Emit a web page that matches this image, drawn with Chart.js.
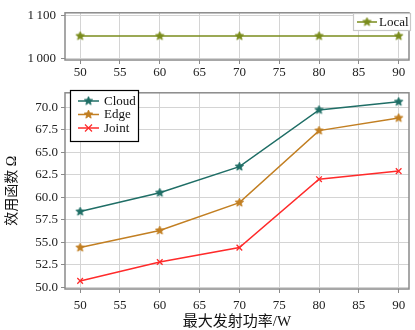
<!DOCTYPE html>
<html><head><meta charset="utf-8">
<script src="https://cdn.jsdelivr.net/npm/chart.js@4/dist/chart.umd.min.js"></script>
<style>
html,body{margin:0;padding:0;background:#fff;}
#wrap{position:relative;width:415px;height:330px;overflow:hidden;}
#c1{position:absolute;left:0;top:0;}
#c2{position:absolute;left:0;top:82px;}
</style></head><body>
<div id="wrap"><canvas id="c1" width="415" height="82"></canvas><canvas id="c2" width="415" height="248"></canvas></div>
<script>
// ---- data ----
const powers = [50, 60, 70, 80, 90];
const xTicks = [50, 55, 60, 65, 70, 75, 80, 85, 90];
const localVals = [1052, 1052, 1052, 1052, 1052];
const cloudVals = [58.4, 60.5, 63.4, 69.7, 70.6];
const edgeVals = [54.4, 56.3, 59.4, 67.4, 68.8];
const jointVals = [50.7, 52.8, 54.4, 62.0, 62.9];
const topYTicks = [1000, 1100];
const bottomYTicks = [50, 52.5, 55, 57.5, 60, 62.5, 65, 67.5, 70];
const xTitle = '最大发射功率/W';
const yTitle = '效用函数 Ω';

// ---- styles ----
const SERIF = "'Liberation Serif','DejaVu Serif','Noto Sans CJK SC',serif";
const C_LOCAL = '#7a8c1c';
const C_CLOUD = '#1f6e66';
const C_EDGE = '#c27f22';
const C_JOINT = '#ff2a2a';
const GRID = '#d4d4d4';
const FRAME = '#8a8a8a';

function starImg(color, r) {
  const s = Math.ceil(r * 2 + 2);
  const c = document.createElement('canvas'); c.width = s; c.height = s;
  const g = c.getContext('2d');
  g.fillStyle = color; g.strokeStyle = color; g.lineWidth = 0.8;
  g.beginPath();
  for (let i = 0; i < 10; i++) {
    const a = -Math.PI / 2 + i * Math.PI / 5;
    const rr = i % 2 ? r * 0.45 : r;
    g.lineTo(s / 2 + rr * Math.cos(a), s / 2 + rr * Math.sin(a));
  }
  g.closePath(); g.fill(); g.stroke();
  return c;
}

const pts = arr => powers.map((p, i) => ({x: p, y: arr[i]}));

const framePlugin = {
  id: 'frame',
  afterDatasetsDraw(chart) {
    const a = chart.chartArea, ctx = chart.ctx;
    ctx.save();
    ctx.strokeStyle = FRAME; ctx.lineWidth = 1.5;
    ctx.strokeRect(a.left, a.top, a.right - a.left, a.bottom - a.top);
    ctx.restore();
  }
};

function legendPlugin(box, borderColor, rowH, lineX0, lineX1, textX) {
  return {
    id: 'customLegend',
    afterDraw(chart) {
      const ctx = chart.ctx;
      ctx.save();
      ctx.fillStyle = '#fff';
      ctx.fillRect(box.x, box.y, box.w, box.h);
      ctx.strokeStyle = borderColor; ctx.lineWidth = 1.2;
      ctx.strokeRect(box.x + 0.5, box.y + 0.5, box.w, box.h);
      chart.data.datasets.forEach((ds, i) => {
        const y = box.y + box.firstY + i * rowH;
        ctx.strokeStyle = ds.borderColor; ctx.lineWidth = 1.5;
        ctx.beginPath(); ctx.moveTo(lineX0, y); ctx.lineTo(lineX1, y); ctx.stroke();
        const mx = (lineX0 + lineX1) / 2;
        if (ds.pointStyle instanceof HTMLCanvasElement) {
          ctx.drawImage(ds.pointStyle, mx - ds.pointStyle.width / 2, y - ds.pointStyle.height / 2);
        } else {
          const r = 3.5;
          ctx.lineWidth = 1.2;
          ctx.beginPath();
          ctx.moveTo(mx - r, y - r); ctx.lineTo(mx + r, y + r);
          ctx.moveTo(mx - r, y + r); ctx.lineTo(mx + r, y - r);
          ctx.stroke();
        }
        ctx.fillStyle = '#111';
        ctx.font = '13px ' + SERIF;
        ctx.textBaseline = 'middle';
        ctx.textAlign = 'left';
        ctx.fillText(ds.label, textX, y + 0.5);
      });
      ctx.restore();
    }
  };
}

const tickFont = {family: SERIF, size: 13};

function xScale(height, pad) {
  return {
    type: 'linear', min: 48.1, max: 91.3,
    afterBuildTicks: s => { s.ticks = xTicks.map(v => ({value: v})); },
    afterFit: s => { s.height = height; },
    grid: {color: GRID, lineWidth: 1, tickLength: 4, tickColor: FRAME},
    border: {display: false},
    ticks: {font: tickFont, color: '#222', padding: pad, maxRotation: 0, autoSkip: false,
            callback: v => String(v)}
  };
}

// ---- top chart (Local) ----
new Chart(document.getElementById('c1'), {
  type: 'line',
  data: {datasets: [{
    label: 'Local', data: pts(localVals),
    borderColor: C_LOCAL, backgroundColor: C_LOCAL, borderWidth: 1.5,
    pointStyle: starImg(C_LOCAL, 4.5), pointRadius: 4.5, tension: 0
  }]},
  options: {
    responsive: false, animation: false, devicePixelRatio: 1,
    layout: {padding: {left: 0, right: 4, top: 10, bottom: 0}},
    plugins: {legend: {display: false}, tooltip: {enabled: false}},
    scales: {
      x: xScale(22, 1),
      y: {
        type: 'linear', min: 995.6, max: 1106.7,
        afterBuildTicks: s => { s.ticks = topYTicks.map(v => ({value: v})); },
        afterFit: s => { s.width = 65; },
        grid: {color: GRID, lineWidth: 1, tickLength: 4, tickColor: FRAME},
        border: {display: false},
        ticks: {font: tickFont, color: '#222', padding: 5,
                callback: v => String(v).replace(/\B(?=(\d{3})+(?!\d))/g, '\u2009')}
      }
    }
  },
  plugins: [framePlugin, legendPlugin({x: 353, y: 13, w: 57, h: 17, firstY: 9}, '#c8c8c8', 14, 357, 377, 379)]
});

// ---- bottom chart (Cloud / Edge / Joint) ----
new Chart(document.getElementById('c2'), {
  type: 'line',
  data: {datasets: [
    {label: 'Cloud', data: pts(cloudVals), borderColor: C_CLOUD, backgroundColor: C_CLOUD,
     borderWidth: 1.5, pointStyle: starImg(C_CLOUD, 4.5), pointRadius: 4.5, tension: 0},
    {label: 'Edge', data: pts(edgeVals), borderColor: C_EDGE, backgroundColor: C_EDGE,
     borderWidth: 1.5, pointStyle: starImg(C_EDGE, 4.5), pointRadius: 4.5, tension: 0},
    {label: 'Joint', data: pts(jointVals), borderColor: C_JOINT, backgroundColor: C_JOINT,
     borderWidth: 1.5, pointStyle: 'crossRot', pointRadius: 4, pointBorderWidth: 1.3, tension: 0}
  ]},
  options: {
    responsive: false, animation: false, devicePixelRatio: 1,
    layout: {padding: {left: 0, right: 4, top: 2, bottom: 0}},
    plugins: {legend: {display: false}, tooltip: {enabled: false}},
    scales: {
      x: Object.assign(xScale(41, 5), {
        title: {display: true, text: xTitle, color: '#111',
                font: {family: SERIF, size: 15, lineHeight: 1}, padding: {top: 0, bottom: 0}}
      }),
      y: {
        type: 'linear', min: 49.8, max: 71.6,
        afterBuildTicks: s => { s.ticks = bottomYTicks.map(v => ({value: v})); },
        afterFit: s => { s.width = 65; },
        grid: {color: GRID, lineWidth: 1, tickLength: 4, tickColor: FRAME},
        border: {display: false},
        ticks: {font: tickFont, color: '#222', padding: 3, callback: v => Number(v).toFixed(1)},
        title: {display: true, text: yTitle, color: '#111',
                font: {family: SERIF, size: 14, lineHeight: 1}, padding: {top: 5, bottom: 0}}
      }
    }
  },
  plugins: [framePlugin, legendPlugin({x: 70, y: 8, w: 68, h: 51, firstY: 11}, '#000', 13.5, 78, 99, 104)]
});
</script>
</body></html>
